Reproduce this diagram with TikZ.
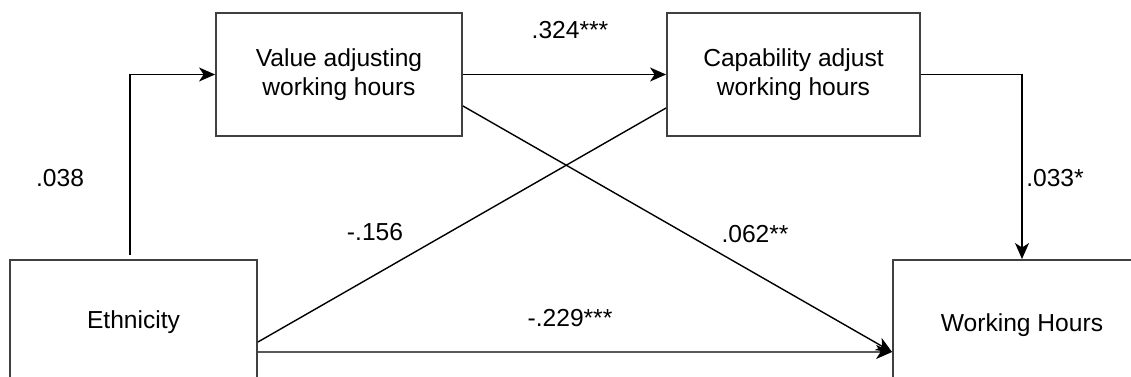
\documentclass[tikz,border=0pt]{standalone}
\usepackage{fontspec}
\setmainfont{Liberation Sans}
\usepackage{tikz}
\usetikzlibrary{arrows.meta}

\begin{document}
\begin{tikzpicture}[
  x=0.02cm, y=-0.02cm,
  box/.style={
    draw=black!75,
    line width=1.1pt,
    align=center,
    inner sep=0pt,
    font=\fontsize{14}{16.5}\selectfont
  },
  arrow/.style={-{Stealth[length=3.2mm,width=2.8mm,inset=0.9mm]},line width=0.8pt},
  link/.style={line width=0.8pt},
  coef/.style={font=\fontsize{14}{16.5}\selectfont}
]
\useasboundingbox (0,0) rectangle (1131,377);
\clip (0,0) rectangle (1131,377);

\node[box,minimum width=4.94cm,minimum height=2.48cm] (eth) at (133.5,322) {Ethnicity};
\node[box,minimum width=4.92cm,minimum height=2.46cm] (val) at (339,74.5) {Value adjusting\\working hours};
\node[box,minimum width=5.06cm,minimum height=2.46cm] (cap) at (793.5,74.5) {Capability adjust\\working hours};
\node[box,minimum width=5.16cm,minimum height=2.6cm] (hours) at (1022,325) {Working Hours};

\draw[arrow] ([xshift=-0.07cm,yshift=0.08cm]eth.north) |- (val.west);
\draw[arrow] (val.east) -- (cap.west);
\draw[arrow] (cap.east) -| (hours.north);
\draw[arrow] ([yshift=-0.63cm]val.east) -- ([yshift=-0.54cm]hours.west);
\draw[link] ([yshift=-0.4cm]eth.east) -- ([yshift=-0.67cm]cap.west);
\draw[arrow] ([yshift=-0.6cm]eth.east) -- ([yshift=-0.54cm]hours.west);

\node[coef] (c1) at (60,178) {.038};
\node[coef] (c2) at (570,30) {.324***};
\node[coef] (c3) at (375,232) {-.156};
\node[coef] (c4) at (755,234) {.062**};
\node[coef] (c5) at (570,318) {-.229***};
\node[coef] (c6) at (1055,178) {.033*};
\end{tikzpicture}
\end{document}
